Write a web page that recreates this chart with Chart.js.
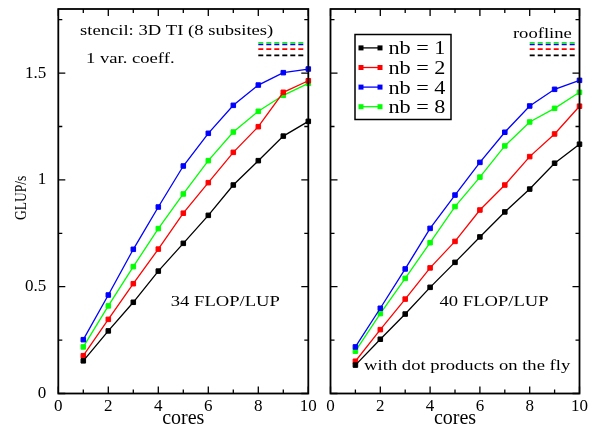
<!DOCTYPE html>
<html>
<head>
<meta charset="utf-8">
<script src="https://cdn.jsdelivr.net/npm/chart.js@4.4.1/dist/chart.umd.min.js"></script>
<style>
  html, body { margin: 0; padding: 0; background: #fff; }
  #wrap { position: relative; width: 596px; height: 432px; overflow: hidden; }
  canvas { position: absolute; top: 0; }
  #leftChart { left: 0; }
  #rightChart { left: 320px; }
</style>
</head>
<body>
<div id="wrap">
  <canvas id="leftChart" width="330" height="432"></canvas>
  <canvas id="rightChart" width="276" height="432"></canvas>
</div>
<script>
// Chart.js Configuration
const SERIF = "'Liberation Serif'";
Chart.defaults.font.family = SERIF;
Chart.defaults.color = '#000';

// Data
const cores = [1, 2, 3, 4, 5, 6, 7, 8, 9, 10];
const seriesLabels = ['nb = 1', 'nb = 2', 'nb = 4', 'nb = 8'];
const seriesColors = ['#000000', '#ff0000', '#0000ff', '#00ff00'];

// left panel: 34 FLOP/LUP
const leftNb1 = [0.153, 0.293, 0.427, 0.573, 0.703, 0.834, 0.976, 1.090, 1.205, 1.274];
const leftNb2 = [0.177, 0.347, 0.514, 0.676, 0.844, 0.987, 1.129, 1.249, 1.410, 1.464];
const leftNb4 = [0.252, 0.461, 0.675, 0.873, 1.065, 1.218, 1.349, 1.444, 1.502, 1.519];
const leftNb8 = [0.218, 0.410, 0.594, 0.772, 0.934, 1.090, 1.224, 1.321, 1.396, 1.452];

// right panel: 40 FLOP/LUP, dot products on the fly
const rightNb1 = [0.133, 0.254, 0.372, 0.497, 0.614, 0.733, 0.850, 0.957, 1.078, 1.167];
const rightNb2 = [0.151, 0.299, 0.442, 0.588, 0.712, 0.859, 0.976, 1.109, 1.215, 1.345];
const rightNb4 = [0.218, 0.399, 0.583, 0.773, 0.929, 1.082, 1.223, 1.346, 1.424, 1.466];
const rightNb8 = [0.198, 0.374, 0.539, 0.706, 0.875, 1.013, 1.159, 1.271, 1.335, 1.410];

// roofline markers (nb = 1, 2, 4, 8), short dashed segments
const roofX = [8, 9.85];
const roofLevels = [1.583, 1.612, 1.634, 1.642];

// axis ticks
const xTicks = [0, 2, 4, 6, 8, 10];
const yTicks = [0, 0.5, 1, 1.5];

// major + minor tick values from a scale
function tickMarks(scale) {
    const vals = scale.ticks.map(t => t.value);
    const step = vals[1] - vals[0];
    const out = [];
    vals.forEach(v => {
        out.push([v, true]);
        if (v + step / 2 <= scale.max + 1e-9) out.push([v + step / 2, false]);
    });
    return out;
}

// frame + inward ticks on all four sides
const frameTicks = {
    id: 'frameTicks',
    afterDatasetsDraw(chart) {
        const { ctx, chartArea: a, scales: { x, y } } = chart;
        ctx.save();
        ctx.strokeStyle = '#000';
        ctx.lineWidth = 1.3;
        ctx.beginPath();
        tickMarks(x).forEach(([v, major]) => {
            const px = x.getPixelForValue(v), len = major ? 7 : 4;
            ctx.moveTo(px, a.bottom); ctx.lineTo(px, a.bottom - len);
            ctx.moveTo(px, a.top); ctx.lineTo(px, a.top + len);
        });
        tickMarks(y).forEach(([v, major]) => {
            const py = y.getPixelForValue(v), len = major ? 7 : 4;
            ctx.moveTo(a.left, py); ctx.lineTo(a.left + len, py);
            ctx.moveTo(a.right, py); ctx.lineTo(a.right - len, py);
        });
        ctx.stroke();
        ctx.lineWidth = 1.8;
        ctx.strokeRect(a.left, a.top, a.right - a.left, a.bottom - a.top);
        ctx.restore();
    }
};

// text annotations, placed in data coordinates (+ the rotated y title)
const notes = {
    id: 'notes',
    afterDraw(chart, args, opts) {
        const { ctx, chartArea: a, scales: { x, y } } = chart;
        ctx.save();
        ctx.fillStyle = '#000';
        ctx.textBaseline = 'alphabetic';
        (opts.items || []).forEach(n => {
            ctx.font = (n.size || 15.5) + 'px ' + SERIF;
            ctx.textAlign = n.align || 'left';
            ctx.save();
            ctx.translate(x.getPixelForValue(n.x), y.getPixelForValue(n.y));
            ctx.scale(1.2, 1);
            ctx.fillText(n.text, 0, 0);
            ctx.restore();
        });
        if (opts.yTitle) {
            ctx.save();
            ctx.translate(21, (a.top + a.bottom) / 2 - 3.5);
            ctx.rotate(-Math.PI / 2);
            ctx.scale(1, 1.3);
            ctx.font = '13.5px ' + SERIF;
            ctx.textAlign = 'center';
            ctx.textBaseline = 'middle';
            ctx.fillText(opts.yTitle, 0, 0);
            ctx.restore();
        }
        ctx.restore();
    }
};

// boxed legend inside the plot
const boxLegend = {
    id: 'boxLegend',
    afterDraw(chart, args, opts) {
        if (!opts.show) return;
        const { ctx, chartArea: a } = chart;
        const left = a.left + 24.5, top = a.top + 25.5;
        ctx.save();
        ctx.strokeStyle = '#000';
        ctx.lineWidth = 1.5;
        ctx.strokeRect(left, top, 96, 85);
        chart.data.datasets.slice(0, seriesLabels.length).forEach((ds, i) => {
            const cy = top + 13.4 + i * 19.6;
            ctx.strokeStyle = ds.borderColor;
            ctx.lineWidth = 1.3;
            ctx.beginPath();
            ctx.moveTo(left + 6, cy);
            ctx.lineTo(left + 25, cy);
            ctx.stroke();
            ctx.fillStyle = ds.borderColor;
            ctx.fillRect(left + 3.5, cy - 2.5, 5, 5);
            ctx.fillRect(left + 22.5, cy - 2.5, 5, 5);
            ctx.fillStyle = '#000';
            ctx.font = '18.5px ' + SERIF;
            ctx.textAlign = 'left';
            ctx.textBaseline = 'alphabetic';
            ctx.save();
            ctx.translate(left + 33.5, cy + 6.5);
            ctx.scale(1.2, 1);
            ctx.fillText(ds.label, 0, 0);
            ctx.restore();
        });
        ctx.restore();
    }
};

function buildDatasets(series) {
    const sets = series.map((vals, i) => ({
        label: seriesLabels[i],
        data: cores.map((c, k) => ({ x: c, y: vals[k] })),
        borderColor: seriesColors[i],
        backgroundColor: seriesColors[i],
        borderWidth: 1.3,
        pointStyle: 'rect',
        pointRadius: 3.2,
        pointBorderWidth: 1,
        tension: 0,
        clip: false
    }));
    roofLevels.forEach((lvl, i) => {
        sets.push({
            label: 'roofline ' + seriesLabels[i],
            data: roofX.map(v => ({ x: v, y: lvl })),
            borderColor: seriesColors[i],
            borderWidth: 1.6,
            borderDash: [5, 3],
            pointRadius: 0,
            clip: false
        });
    });
    return sets;
}

function noPadding(s) {
    s.paddingTop = 0;
    s.paddingBottom = 0;
    s.paddingLeft = 0;
    s.paddingRight = 0;
}

function makeChart(id, series, side, noteItems) {
    const isLeft = side === 'left';
    const ctx = document.getElementById(id).getContext('2d');
    return new Chart(ctx, {
        type: 'line',
        data: { datasets: buildDatasets(series) },
        plugins: [frameTicks, notes, boxLegend],
        options: {
            responsive: false,
            animation: false,
            layout: { padding: { top: 9, right: isLeft ? 21.7 : 16.5, left: 0, bottom: 0 } },
            plugins: {
                legend: { display: false },
                tooltip: { enabled: false },
                notes: { items: noteItems, yTitle: isLeft ? 'GLUP/s' : '' },
                boxLegend: { show: !isLeft }
            },
            scales: {
                x: {
                    type: 'linear',
                    min: 0,
                    max: 10,
                    grid: { display: false, drawTicks: false },
                    border: { display: false },
                    afterBuildTicks: s => { s.ticks = xTicks.map(v => ({ value: v })); },
                    ticks: { padding: 3, maxRotation: 0, autoSkip: false, font: { family: SERIF, size: 17 } },
                    title: { display: true, text: 'cores', font: { family: SERIF, size: 20 }, padding: { top: 0, bottom: 1 } },
                    afterFit: s => { s.height = 38.5; noPadding(s); }
                },
                y: {
                    min: 0,
                    max: 1.8,
                    grid: { display: false, drawTicks: false },
                    border: { display: false },
                    afterBuildTicks: s => { s.ticks = yTicks.map(v => ({ value: v })); },
                    ticks: {
                        display: isLeft,
                        padding: 12,
                        font: { family: SERIF, size: 17 },
                        callback: v => String(v)
                    },
                    afterFit: s => { s.width = isLeft ? 58.3 : 10.5; noPadding(s); }
                }
            }
        }
    });
}

makeChart('leftChart', [leftNb1, leftNb2, leftNb4, leftNb8], 'left', [
    { text: 'stencil: 3D TI (8 subsites)', x: 0.87, y: 1.678 },
    { text: '1 var. coeff.', x: 1.11, y: 1.547 },
    { text: '34 FLOP/LUP', x: 4.5, y: 0.41 }
]);

makeChart('rightChart', [rightNb1, rightNb2, rightNb4, rightNb8], 'right', [
    { text: 'roofline', x: 9.69, y: 1.663, align: 'right' },
    { text: '40 FLOP/LUP', x: 4.38, y: 0.41 },
    { text: 'with dot products on the fly', x: 1.35, y: 0.112 }
]);
</script>
</body>
</html>
